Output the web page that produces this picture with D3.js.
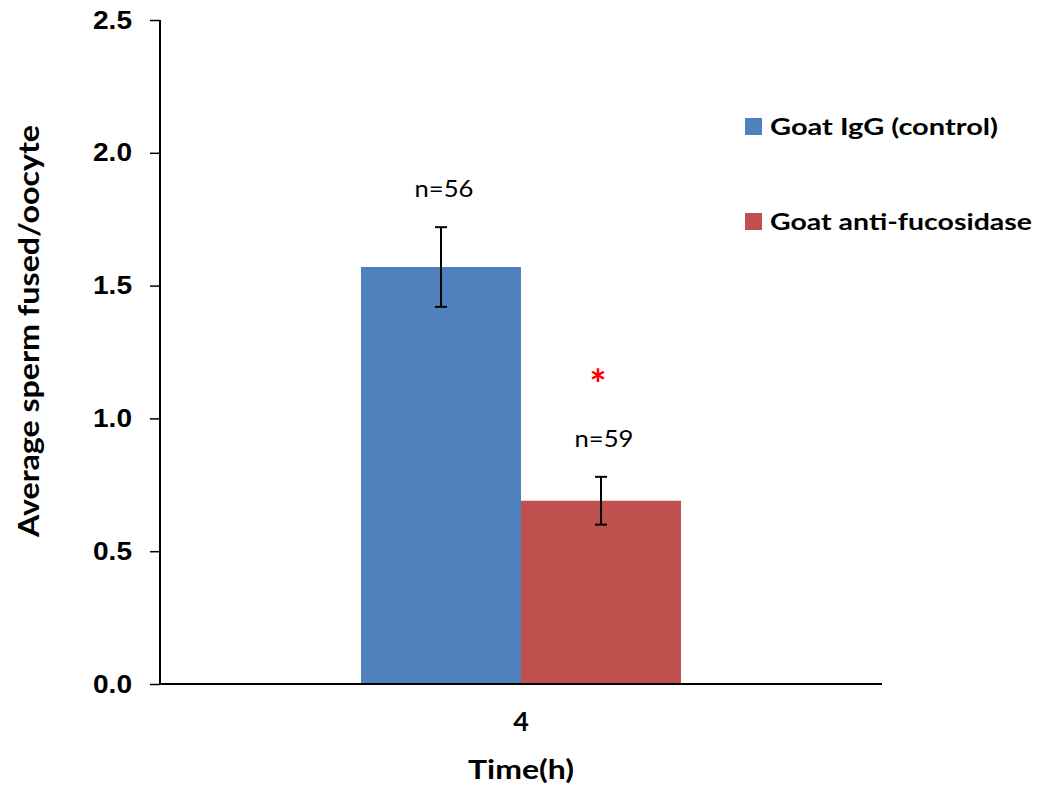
<!DOCTYPE html>
<html>
<head>
<meta charset="utf-8">
<script src="https://cdn.jsdelivr.net/npm/d3@7"></script>
<style>
  html, body { margin: 0; padding: 0; background: #fff; }
  svg { display: block; font-family: "Lato", "Open Sans", sans-serif; }
</style>
</head>
<body>
<svg id="chart" width="1039" height="787"></svg>
<script>
// Time points (h) on the x axis
const timePoints = ["4"];
// Treatment groups
const groups = ["Goat IgG (control)", "Goat anti-fucosidase"];
// Mean sperm fused per oocyte, one value per group
const means = [1.57, 0.69];
// Standard error for each group
const errors = [0.15, 0.09];
// Number of oocytes scored per group
const counts = ["n=56", "n=59"];
// Significance marker per group
const marks = ["", "*"];
// Y axis ticks
const yTicks = [0, 0.5, 1.0, 1.5, 2.0, 2.5];
const colors = ["#4F81BD", "#C0504D"];

const svg = d3.select("#chart");
const margin = { left: 160, top: 20, right: 157, bottom: 103 };
const W = 1039, H = 787;
const plotW = W - margin.left - margin.right;
const plotH = H - margin.top - margin.bottom;

// Widen bold text a little so it fills the same run as the wide chart lettering
function fitText(sel, len) {
  sel.attr("textLength", len).attr("lengthAdjust", "spacingAndGlyphs");
}

const g = svg.append("g").attr("transform", `translate(${margin.left},${margin.top})`);

const y = d3.scaleLinear().domain([0, 2.5]).range([plotH, 0]);
const x0 = d3.scaleBand().domain(timePoints).range([0, plotW]).paddingInner(0).paddingOuter(0.628);
const x1 = d3.scaleBand().domain(groups).range([0, x0.bandwidth()]).padding(0);

// Y axis
const yAxis = d3.axisLeft(y).tickValues(yTicks).tickFormat(d3.format(".1f")).tickSize(10).tickPadding(18);
const yg = g.append("g").call(yAxis);
yg.select(".domain").attr("stroke", "#000").attr("stroke-width", 2).attr("d", `M0,${y(2.5)}V${plotH}`);
yg.selectAll(".tick line").attr("stroke", "#000").attr("stroke-width", 1.5);
yg.selectAll(".tick text").attr("font-size", 25).attr("font-weight", "bold").attr("fill", "#000")
  .call(fitText, 39);

// Bars
const rows = groups.map((grp, i) => ({ grp, t: timePoints[0], mean: means[i], err: errors[i], n: counts[i], mark: marks[i], color: colors[i] }));

g.selectAll("rect.bar").data(rows).join("rect")
  .attr("class", "bar")
  .attr("x", d => x0(d.t) + x1(d.grp))
  .attr("y", d => y(d.mean))
  .attr("width", x1.bandwidth())
  .attr("height", d => y(0) - y(d.mean))
  .attr("fill", d => d.color);

// X axis line
g.append("line").attr("x1", 0).attr("x2", plotW).attr("y1", plotH).attr("y2", plotH)
  .attr("stroke", "#000").attr("stroke-width", 2);

// Error bars
const cap = 6;
const eb = g.selectAll("g.err").data(rows).join("g").attr("class", "err")
  .attr("transform", d => `translate(${x0(d.t) + x1(d.grp) + x1.bandwidth() / 2},0)`);
eb.append("line").attr("y1", d => y(d.mean + d.err)).attr("y2", d => y(d.mean - d.err)).attr("stroke", "#000").attr("stroke-width", 2);
eb.append("line").attr("x1", -cap).attr("x2", cap).attr("y1", d => y(d.mean + d.err)).attr("y2", d => y(d.mean + d.err)).attr("stroke", "#000").attr("stroke-width", 2);
eb.append("line").attr("x1", -cap).attr("x2", cap).attr("y1", d => y(d.mean - d.err)).attr("y2", d => y(d.mean - d.err)).attr("stroke", "#000").attr("stroke-width", 2);

// n labels above error bars
eb.append("text")
  .attr("x", 3)
  .attr("y", d => y(d.mean + d.err) - 30)
  .attr("text-anchor", "middle")
  .attr("font-size", 24)
  .attr("fill", "#000")
  .text(d => d.n)
  .call(fitText, 59);

// Significance marker
eb.append("text")
  .attr("x", -3)
  .attr("y", d => y(d.mean + d.err) - 78)
  .attr("text-anchor", "middle")
  .attr("font-size", 40)
  .attr("font-weight", "bold")
  .attr("fill", "#FF0000")
  .text(d => d.mark);

// X tick label
g.selectAll("text.xlab").data(timePoints).join("text")
  .attr("class", "xlab")
  .attr("x", d => x0(d) + x0.bandwidth() / 2)
  .attr("y", plotH + 47)
  .attr("text-anchor", "middle")
  .attr("font-size", 27)
  .attr("font-weight", "bold")
  .text(d => d);

// Axis titles
svg.append("text")
  .attr("x", margin.left + x0("4") + x0.bandwidth() / 2)
  .attr("y", 779)
  .attr("text-anchor", "middle")
  .attr("font-size", 27)
  .attr("font-weight", "bold")
  .text("Time(h)")
  .call(fitText, 106);

svg.append("text")
  .attr("transform", `translate(39,331) rotate(-90)`)
  .attr("text-anchor", "middle")
  .attr("font-size", 28)
  .attr("font-weight", "bold")
  .text("Average sperm fused/oocyte")
  .call(fitText, 412);

// Legend
const legendLen = [228, 262];
const lg = svg.append("g").attr("transform", "translate(745,118)");
const li = lg.selectAll("g").data(groups).join("g").attr("transform", (d, i) => `translate(0,${i * 95})`);
li.append("rect").attr("width", 17).attr("height", 17).attr("fill", (d, i) => colors[i]);
li.append("text").attr("x", 25).attr("y", 17).attr("font-size", 23).attr("font-weight", "bold")
  .text(d => d)
  .each(function (d, i) { d3.select(this).call(fitText, legendLen[i]); });
</script>
</body>
</html>
